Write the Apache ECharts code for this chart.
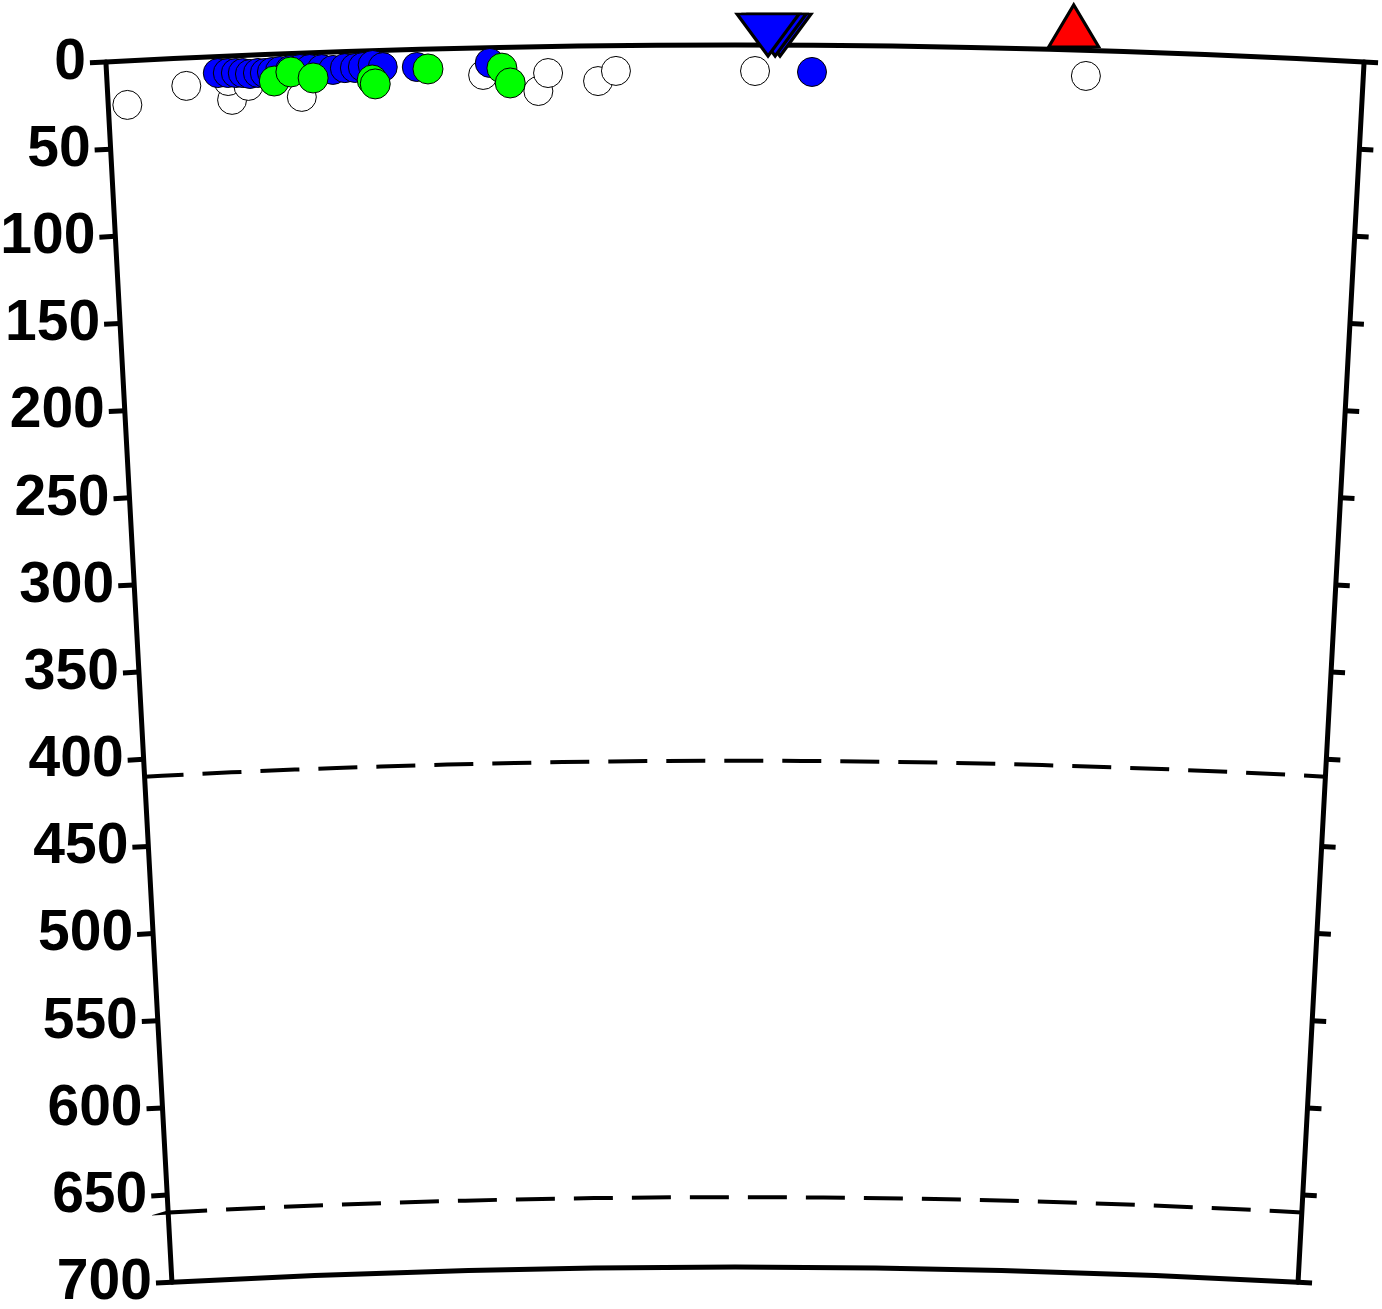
<!DOCTYPE html>
<html><head><meta charset="utf-8">
<script src="https://cdn.jsdelivr.net/npm/echarts@6/dist/echarts.min.js"></script>
<style>html,body{margin:0;padding:0;background:#fff}#c{width:1382px;height:1309px}</style>
</head><body><div id="c"></div>
<script>
// ---- data (distance along profile in km, depth in km) ----
const depthMin = 0, depthMax = 700, depthStep = 50;
const profileLength = 690;
const discontinuities = [410, 660];
const openEvents = [[10.5,25.2],[43.4,16.0],[68.2,25.2],[66.5,14.3],[77.5,17.6],[106.6,25.1],[206.6,15.6],[236.8,25.4],[242.3,15.2],[269.7,20.2],[279.6,14.5],[356.0,14.9],[537.8,14.7]];
const blueEvents = [[61.0,9.5],[66.5,9.7],[70.9,9.9],[74.7,10.1],[78.6,10.8],[83.0,10.4],[86.8,10.6],[90.7,10.2],[95.1,9.8],[100.6,9.5],[106.1,9.1],[111.5,9.3],[118.1,9.6],[124.2,10.3],[130.8,9.5],[136.3,9.6],[140.7,9.2],[146.1,8.2],[151.6,9.6],[170.3,10.1],[210.4,8.8],[387.3,15.3]];
const greenEvents = [[91.8,15.4],[101.1,10.6],[113.2,14.5],[145.6,16.8],[147.2,19.1],[176.4,11.4],[217.0,11.9],[221.4,20.5]];
const stationsDown = [[369.7,0],[367.0,0],[363.1,0]];
const stationsUp = [[530.7,0]];

// ---- layout ----
const CENTER = [735, 11689];
const RADIUS = [10422, 11644];
const HALF = 3.097;
const START = 90 + HALF, END = 90 - HALF;

const tickCount = (depthMax - depthMin) / depthStep + 1;
const frameColors = [];
for (let i = 0; i < tickCount; i++) frameColors.push(i === 0 || i === tickCount - 1 ? '#000' : 'rgba(0,0,0,0)');
const fineStep = 10;
const fineCount = (depthMax - depthMin) / fineStep + 1;
const dashColors = [];
for (let i = 0; i < fineCount; i++) dashColors.push(discontinuities.includes(depthMin + i * fineStep) ? '#000' : 'rgba(0,0,0,0)');

const hiddenAngle = (i, s, e) => ({
  polarIndex: i, type: 'value', min: 0, max: profileLength, startAngle: s, endAngle: e,
  axisLine: {show: false}, axisTick: {show: false}, axisLabel: {show: false},
  splitLine: {show: false}, splitArea: {show: false}
});

const chart = echarts.init(document.getElementById('c'), null, {renderer: 'canvas'});
chart.setOption({
  animation: false,
  backgroundColor: '#fff',
  polar: [
    {center: CENTER, radius: RADIUS},
    {center: CENTER, radius: RADIUS},
    {center: CENTER, radius: RADIUS}
  ],
  angleAxis: [hiddenAngle(0, START, END), hiddenAngle(1, END, END - 6), hiddenAngle(2, START, END)],
  radiusAxis: [
    {
      polarIndex: 0, type: 'value', inverse: true, min: depthMin, max: depthMax, interval: depthStep,
      axisLine: {show: true, lineStyle: {color: '#000', width: 5}},
      axisTick: {show: true, length: 16, lineStyle: {color: '#000', width: 5}},
      axisLabel: {show: true, margin: 20, color: '#000', fontSize: 57, fontWeight: 'bold', fontFamily: 'Liberation Sans'},
      splitLine: {show: true, lineStyle: {color: frameColors, width: 5}}
    },
    {
      polarIndex: 1, type: 'value', inverse: true, min: depthMin, max: depthMax, interval: depthStep,
      axisLine: {show: true, lineStyle: {color: '#000', width: 5}},
      axisTick: {show: true, length: -14, lineStyle: {color: '#000', width: 5}},
      axisLabel: {show: false},
      splitLine: {show: false}
    },
    {
      polarIndex: 2, type: 'value', inverse: true, min: depthMin, max: depthMax, interval: fineStep,
      axisLine: {show: false}, axisTick: {show: false}, axisLabel: {show: false},
      splitLine: {show: true, lineStyle: {color: dashColors, width: 4, type: [39, 19]}}
    }
  ],
  series: [
    {type: 'scatter', coordinateSystem: 'polar', polarIndex: 0, data: openEvents.map(d => [d[1], d[0]]),
      symbol: 'circle', symbolSize: 29, itemStyle: {color: '#fff', borderColor: '#000', borderWidth: 1, opacity: 1}, z: 3},
    {type: 'scatter', coordinateSystem: 'polar', polarIndex: 0, data: blueEvents.map(d => [d[1], d[0]]),
      symbol: 'circle', symbolSize: 29, itemStyle: {color: '#0000ff', borderColor: '#000', borderWidth: 1, opacity: 1}, z: 4},
    {type: 'scatter', coordinateSystem: 'polar', polarIndex: 0, data: greenEvents.map(d => [d[1], d[0]]),
      symbol: 'circle', symbolSize: 30, itemStyle: {color: '#00ff00', borderColor: '#000', borderWidth: 1, opacity: 1}, z: 5},
    {type: 'scatter', coordinateSystem: 'polar', polarIndex: 0, data: stationsDown.map(d => [d[1], d[0]]),
      symbol: 'triangle', symbolRotate: 180, symbolSize: [62, 42], symbolOffset: [0, -10],
      itemStyle: {color: '#0000ff', borderColor: '#000', borderWidth: 3, opacity: 1}, z: 6},
    {type: 'scatter', coordinateSystem: 'polar', polarIndex: 0, data: stationsUp.map(d => [d[1], d[0]]),
      symbol: 'triangle', symbolSize: [50, 42], symbolOffset: [0, -24],
      itemStyle: {color: '#ff0000', borderColor: '#000', borderWidth: 3, opacity: 1}, z: 6}
  ]
});
</script>
</body></html>
